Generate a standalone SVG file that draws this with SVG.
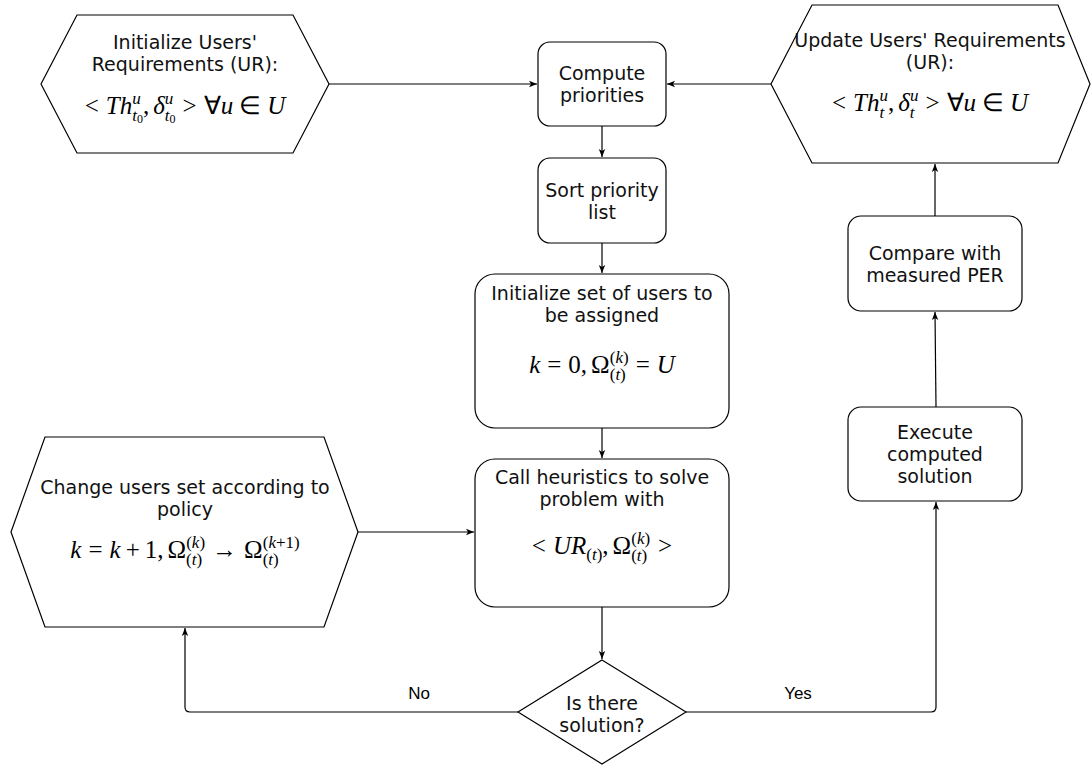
<svg xmlns="http://www.w3.org/2000/svg" width="1091" height="767" viewBox="0 0 1091 767">
<style>
.shape{fill:#fff;stroke:#000;stroke-width:1.2}
.t{font-family:"DejaVu Sans",Verdana,sans-serif;font-size:19px;fill:#111;text-anchor:middle}
.lbl{font-family:"Liberation Sans",Arial,sans-serif;font-size:17px;fill:#000;text-anchor:middle}
.m{font-family:"Liberation Serif","Times New Roman",serif;font-size:25px;fill:#000;text-anchor:middle}
.i{font-style:italic}
.s{font-size:17px}
.ss{font-size:12px}
.c{fill:none;stroke:#000;stroke-width:1.2}
</style>
<defs>
<marker id="ah" viewBox="0 0 10 10" refX="10" refY="5" markerWidth="8" markerHeight="8" markerUnits="userSpaceOnUse" orient="auto">
<path d="M0,1 L10,5 L0,9 L2.5,5 z" fill="#000"/>
</marker>
</defs>
<g id="connectors">
<path class="c" d="M329,84 H537" marker-end="url(#ah)"/>
<path class="c" d="M771,84 H667" marker-end="url(#ah)"/>
<path class="c" d="M602,126 V157" marker-end="url(#ah)"/>
<path class="c" d="M602,243 V273" marker-end="url(#ah)"/>
<path class="c" d="M602,428 V458" marker-end="url(#ah)"/>
<path class="c" d="M358,532 H474" marker-end="url(#ah)"/>
<path class="c" d="M602,607 V659" marker-end="url(#ah)"/>
<path class="c" d="M518,712 H190 Q185,712 185,707 V628" marker-end="url(#ah)"/>
<path class="c" d="M686,712 H931 Q936,712 936,707 V502" marker-end="url(#ah)"/>
<path class="c" d="M936,407 L935,312" marker-end="url(#ah)"/>
<path class="c" d="M935,216 V164" marker-end="url(#ah)"/>
<text class="lbl" x="419" y="699">No</text>
<text class="lbl" x="798" y="699">Yes</text>
</g>
<g id="init-ur">
<polygon class="shape" points="77,15 293,15 329,84 293,153 77,153 41,84"/>
<text class="t" x="185" y="49">Initialize Users'</text>
<text class="t" x="185" y="71">Requirements (UR):</text>
<text class="m" x="185" y="114">&lt;<tspan class="i" dx="7">Th</tspan><tspan class="s i" dy="-10">u</tspan><tspan class="s i" dx="-8.5" dy="17">t</tspan><tspan class="ss" dy="2">0</tspan><tspan dy="-9">,</tspan><tspan class="i" dx="4">δ</tspan><tspan class="s i" dy="-10">u</tspan><tspan class="s i" dx="-8.5" dy="17">t</tspan><tspan class="ss" dy="2">0</tspan><tspan dy="-9" dx="7">&gt;</tspan><tspan dx="7">∀</tspan><tspan class="i">u</tspan><tspan dx="6">∈</tspan><tspan class="i" dx="6">U</tspan></text>
</g>
<g id="update-ur">
<polygon class="shape" points="812,5 1058,5 1090,84 1058,163 812,163 771,84"/>
<text class="t" x="930" y="47">Update Users' Requirements</text>
<text class="t" x="930" y="69">(UR):</text>
<text class="m" x="930" y="111">&lt;<tspan class="i" dx="7">Th</tspan><tspan class="s i" dy="7">t</tspan><tspan class="s i" dx="-4.7" dy="-17">u</tspan><tspan dy="10">,</tspan><tspan class="i" dx="4">δ</tspan><tspan class="s i" dy="7">t</tspan><tspan class="s i" dx="-4.7" dy="-17">u</tspan><tspan dy="10" dx="7">&gt;</tspan><tspan dx="7">∀</tspan><tspan class="i">u</tspan><tspan dx="6">∈</tspan><tspan class="i" dx="6">U</tspan></text>
</g>
<g id="compute">
<rect class="shape" x="538" y="42" width="128" height="84" rx="12"/>
<text class="t" x="602" y="80">Compute</text>
<text class="t" x="602" y="102">priorities</text>
</g>
<g id="sort">
<rect class="shape" x="538" y="158" width="128" height="85" rx="12"/>
<text class="t" x="602" y="197">Sort priority</text>
<text class="t" x="602" y="219">list</text>
</g>
<g id="init-set">
<rect class="shape" x="475" y="274" width="254" height="154" rx="20"/>
<text class="t" x="602" y="300">Initialize set of users to</text>
<text class="t" x="602" y="322">be assigned</text>
<text class="m" x="602" y="373"><tspan class="i">k</tspan><tspan dx="7">=</tspan><tspan dx="7">0,</tspan><tspan dx="4">Ω</tspan><tspan class="s" dy="7">(<tspan class="i">t</tspan>)</tspan><tspan class="s" dx="-16" dy="-17">(<tspan class="i">k</tspan>)</tspan><tspan dy="10" dx="7">=</tspan><tspan class="i" dx="7">U</tspan></text>
</g>
<g id="call">
<rect class="shape" x="475" y="459" width="254" height="148" rx="20"/>
<text class="t" x="602" y="484">Call heuristics to solve</text>
<text class="t" x="602" y="506">problem with</text>
<text class="m" x="602" y="554">&lt;<tspan class="i" dx="7">UR</tspan><tspan class="s" dy="6">(<tspan class="i">t</tspan>)</tspan><tspan dy="-6">,</tspan><tspan dx="4">Ω</tspan><tspan class="s" dy="7">(<tspan class="i">t</tspan>)</tspan><tspan class="s" dx="-16" dy="-17">(<tspan class="i">k</tspan>)</tspan><tspan dy="10" dx="8">&gt;</tspan></text>
</g>
<g id="change-set">
<polygon class="shape" points="45,437 324,437 358,532 324,627 45,627 11,532"/>
<text class="t" x="185" y="494">Change users set according to</text>
<text class="t" x="185" y="516">policy</text>
<text class="m" x="185" y="558"><tspan class="i">k</tspan><tspan dx="7">=</tspan><tspan class="i" dx="7">k</tspan><tspan dx="5">+</tspan><tspan dx="5">1,</tspan><tspan dx="4">Ω</tspan><tspan class="s" dy="7">(<tspan class="i">t</tspan>)</tspan><tspan class="s" dx="-16" dy="-17">(<tspan class="i">k</tspan>)</tspan><tspan dy="10" dx="7">→</tspan><tspan dx="7">Ω</tspan><tspan class="s" dy="7">(<tspan class="i">t</tspan>)</tspan><tspan class="s" dx="-16" dy="-17">(<tspan class="i">k</tspan>+1)</tspan></text>
</g>
<g id="decision">
<polygon class="shape" points="602,660 686,712 602,764 518,712"/>
<text class="t" x="602" y="710">Is there</text>
<text class="t" x="602" y="732">solution?</text>
</g>
<g id="compare">
<rect class="shape" x="848" y="216" width="174" height="95" rx="13"/>
<text class="t" x="935" y="260">Compare with</text>
<text class="t" x="935" y="282">measured PER</text>
</g>
<g id="execute">
<rect class="shape" x="848" y="407" width="174" height="94" rx="13"/>
<text class="t" x="935" y="439">Execute</text>
<text class="t" x="935" y="461">computed</text>
<text class="t" x="935" y="483">solution</text>
</g>
</svg>
